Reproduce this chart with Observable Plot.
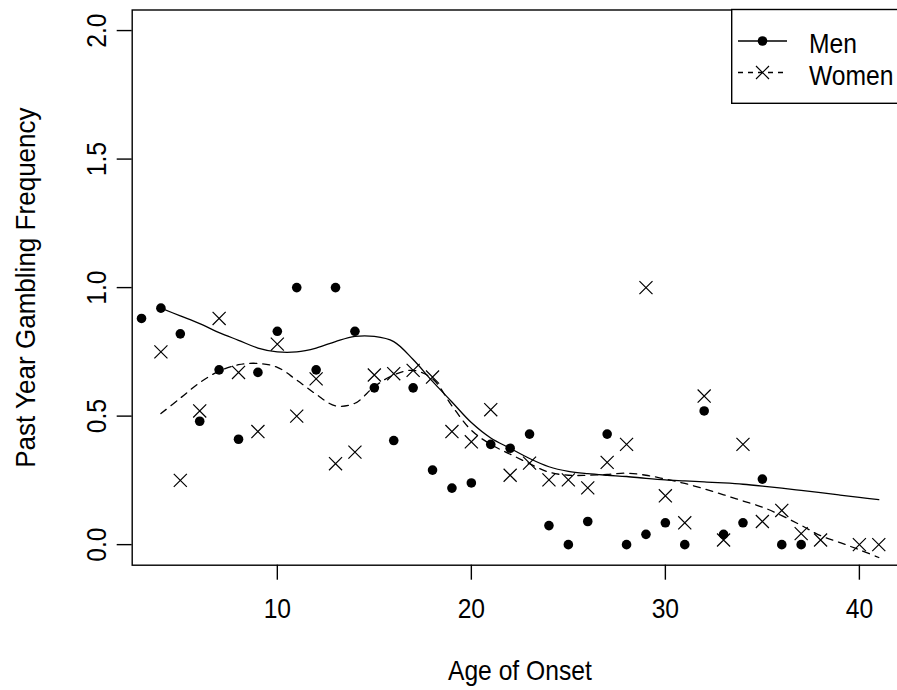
<!DOCTYPE html>
<html><head><meta charset="utf-8">
<script src="https://cdn.jsdelivr.net/npm/d3@7"></script>
<script src="https://cdn.jsdelivr.net/npm/@observablehq/plot@0.6"></script>
<style>body{margin:0;background:#fff} svg{overflow:hidden}</style>
</head><body><div id="chart"></div>
<script>
// ---- data ----
const menAge  = [3,4,5,6,7,8,9,10,11,12,13,14,15,16,17,18,19,20,21,22,23,24,25,26,27,28,29,30,31,32,33,34,35,36,37];
const menFreq = [0.88,0.92,0.82,0.48,0.68,0.41,0.67,0.83,1.0,0.68,1.0,0.83,0.61,0.405,0.61,0.29,0.22,0.24,0.39,0.375,0.43,0.074,0,0.09,0.43,0,0.04,0.085,0,0.52,0.04,0.085,0.255,0,0];
const womenAge  = [4,5,6,7,8,9,10,11,12,13,14,15,16,17,18,19,20,21,22,23,24,25,26,27,28,29,30,31,32,33,34,35,36,37,38,40,41];
const womenFreq = [0.75,0.25,0.52,0.88,0.67,0.44,0.78,0.50,0.645,0.315,0.36,0.66,0.665,0.678,0.652,0.44,0.40,0.525,0.27,0.317,0.252,0.252,0.221,0.32,0.39,1.0,0.19,0.085,0.578,0.018,0.39,0.09,0.133,0.043,0.018,0,0];
const curveAge   = [4,5,6,7,8,9,10,11,12,13,14,15,16,17,18,19,20,21,22,23,24,25,26,27,28,29,30,31,32,33,34,35,36,37,38,39,40,41];
const menCurve   = [0.92,0.89,0.86,0.825,0.795,0.765,0.75,0.75,0.765,0.79,0.81,0.81,0.79,0.72,0.635,0.555,0.475,0.415,0.375,0.335,0.303,0.285,0.276,0.27,0.265,0.258,0.252,0.248,0.244,0.24,0.235,0.228,0.22,0.211,0.202,0.193,0.184,0.175];
const womenCurve = [0.51,0.57,0.63,0.675,0.70,0.705,0.69,0.64,0.585,0.54,0.55,0.615,0.66,0.678,0.645,0.54,0.445,0.39,0.352,0.315,0.282,0.27,0.27,0.273,0.278,0.27,0.255,0.238,0.217,0.194,0.17,0.146,0.113,0.075,0.035,0.008,-0.02,-0.05];
const xTicks = [10,20,30,40];
const yTicks = [0,0.5,1.0,1.5,2.0];
const xTitle = "Age of Onset";
const yTitle = "Past Year Gambling Frequency";
const seriesNames = ["Men","Women"];

const men = menAge.map((a,i)=>({age:a, f:menFreq[i]}));
const women = womenAge.map((a,i)=>({age:a, f:womenFreq[i]}));
const curves = curveAge.map((a,i)=>({age:a, m:menCurve[i], w:womenCurve[i]}));

const FONT = "'Liberation Sans', Arial, Helvetica, sans-serif";
const FS = 28;

const chart = Plot.plot({
  width: 897, height: 690,
  marginLeft: 131.7, marginRight: -10, marginTop: 9.5, marginBottom: 125.3,
  style: {fontFamily: FONT, fontSize: FS + "px", background: "#fff", color: "#000"},
  x: {domain: [2.52, 42.48]},
  y: {domain: [-0.08, 2.08]},
  marks: [
    Plot.axisX({ticks: xTicks, tickSize: 15, tickPadding: 18, fontSize: FS, label: null, strokeWidth: 1.4, tickFormat: d => String(d)}),
    Plot.axisY({ticks: yTicks, tickSize: 15, tickFormat: () => "", label: null, strokeWidth: 1.4}),
    Plot.text(yTicks, {y: d => d, frameAnchor: "left", dx: -46, rotate: -90, text: d => d.toFixed(1), lineAnchor: "top", textAnchor: "middle", fontSize: FS}),
    Plot.text([yTitle], {frameAnchor: "left", dx: -116.7, rotate: -90, lineAnchor: "top", textAnchor: "middle", fontSize: FS}),
    Plot.text([xTitle], {frameAnchor: "bottom", dy: 95.3, lineAnchor: "top", textAnchor: "middle", fontSize: FS}),
    Plot.line(curves, {x: "age", y: "m", stroke: "#000", strokeWidth: 1.3, curve: "catmull-rom"}),
    Plot.line(curves, {x: "age", y: "w", stroke: "#000", strokeWidth: 1.3, strokeDasharray: "7,6", curve: "catmull-rom"}),
    Plot.dot(men, {x: "age", y: "f", r: 4.8, fill: "#000", stroke: null}),
    Plot.dot(women, {x: "age", y: "f", symbol: "times", r: 6, stroke: "#000", strokeWidth: 1.2}),
    Plot.frame({stroke: "#000", strokeWidth: 1.4})
  ]
});
document.getElementById("chart").append(chart);

// legend inside the plot area (top-right)
const svg = d3.select(chart);
const lg = svg.append("g").attr("font-family", FONT).attr("font-size", FS).attr("text-anchor", "start");
lg.append("rect").attr("x", 731.7).attr("y", 9.5).attr("width", 220).attr("height", 93.8)
  .attr("fill", "#fff").attr("stroke", "#000").attr("stroke-width", 1.4);
const rows = [{y: 41, name: seriesNames[0], dashed: false}, {y: 72.5, name: seriesNames[1], dashed: true}];
rows.forEach(r => {
  lg.append("line").attr("x1", 738).attr("x2", 787).attr("y1", r.y).attr("y2", r.y)
    .attr("stroke", "#000").attr("stroke-width", 1.3).attr("stroke-dasharray", r.dashed ? "5,5" : null);
  if (!r.dashed) {
    lg.append("circle").attr("cx", 762.5).attr("cy", r.y).attr("r", 4.8).attr("fill", "#000");
  } else {
    const h = 6.5;
    lg.append("path").attr("d", `M${762.5-h},${r.y-h}L${762.5+h},${r.y+h}M${762.5-h},${r.y+h}L${762.5+h},${r.y-h}`)
      .attr("stroke", "#000").attr("stroke-width", 1.2).attr("fill", "none");
  }
  lg.append("text").attr("x", 809).attr("y", r.y + 12.3).attr("text-anchor", "start").text(r.name);
});

// slightly condensed text, like the reference
chart.querySelectorAll("text").forEach(t => {
  const w = t.getComputedTextLength();
  if (w > 0) {
    const k = t.textContent === yTitle ? 0.93 : 0.88;
    t.setAttribute("textLength", (w * k).toFixed(1));
    t.setAttribute("lengthAdjust", "spacingAndGlyphs");
  }
});
</script>
</body></html>
